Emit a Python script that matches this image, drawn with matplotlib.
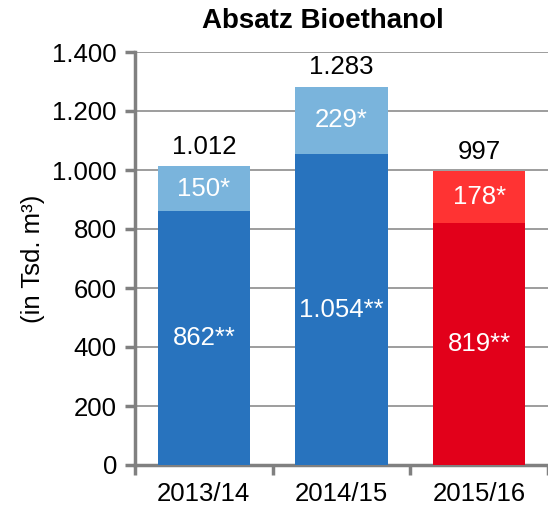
import numpy as np
import matplotlib.pyplot as plt

plt.rcParams['font.family'] = ['Liberation Sans', 'DejaVu Sans']

# Daten (in Tsd. m³)
jahre = ['2013/14', '2014/15', '2015/16']
unten = [862, 1054, 819]
oben = [150, 229, 178]
gesamt = [1012, 1283, 997]

farbe_unten = ['#2873BE', '#2873BE', '#E2001A']
farbe_oben = ['#7AB4DC', '#7AB4DC', '#FF3333']


def de(v):
    return f'{v:,}'.replace(',', '.')


fig = plt.figure(figsize=(5.48, 5.05), dpi=100)
ax = fig.add_axes([135 / 548, 40 / 505, 413 / 548, 413 / 505])

x = np.arange(len(jahre))
ax.bar(x, unten, width=0.67, color=farbe_unten, zorder=3)
ax.bar(x, oben, bottom=unten, width=0.67, color=farbe_oben, zorder=3)

fs = 18.5
for i in range(len(jahre)):
    ax.text(x[i], unten[i] / 2, de(unten[i]) + '**', ha='center', va='center',
            color='white', fontsize=fs, zorder=4)
    ax.text(x[i], unten[i] + oben[i] / 2, de(oben[i]) + '*', ha='center', va='center',
            color='white', fontsize=fs, zorder=4)
    ax.text(x[i], gesamt[i] + 25, de(gesamt[i]), ha='center', va='bottom',
            color='black', fontsize=fs, zorder=4)

ax.set_xlim(-0.5, 2.5)
ax.set_ylim(0, 1400)
ax.set_yticks(range(0, 1401, 200))
ax.set_yticklabels([de(v) for v in range(0, 1401, 200)], fontsize=fs)
ax.set_xticks(x)
ax.set_xticklabels(jahre, fontsize=fs)
ax.tick_params(axis='x', length=0, pad=12)
ax.set_xticks([-0.5, 0.5, 1.5, 2.5], minor=True)
ax.tick_params(axis='x', which='minor', length=7, width=2.5, color='#808080')
ax.tick_params(axis='y', length=7, width=2.5, color='#808080', pad=6)

ax.grid(axis='y', color='#8c8c8c', linewidth=1.2, zorder=0)
for s in ['top', 'right']:
    ax.spines[s].set_visible(False)
for s in ['left', 'bottom']:
    ax.spines[s].set_color('#808080')
    ax.spines[s].set_linewidth(2.5)

ax.set_ylabel('(in Tsd. m³)', fontsize=fs, labelpad=5)
fig.text(323 / 548, 1 - 21 / 505, 'Absatz Bioethanol', ha='center', va='center',
         fontsize=20, fontweight='bold')

fig.savefig('out.png', dpi=100)
